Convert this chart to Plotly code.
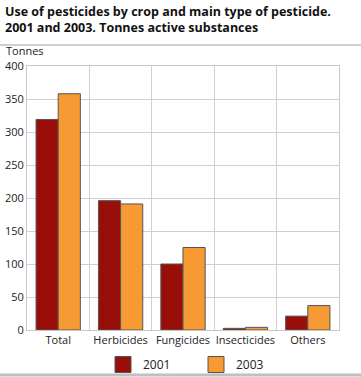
import plotly.graph_objects as go

categories = ["Total", "Herbicides", "Fungicides", "Insecticides", "Others"]
values_2001 = [319, 196, 100, 2.5, 21]
values_2003 = [358, 191, 125, 4, 37]
series_names = ["2001", "2003"]
colors = ["#9a0e0a", "#f79a33"]

fig = go.Figure()
for name, vals, col in zip(series_names, [values_2001, values_2003], colors):
    fig.add_trace(go.Bar(x=categories, y=vals, name=name, showlegend=False,
                         marker=dict(color=col, line=dict(color="#555555", width=1))))
for name, col in zip(series_names, colors):
    fig.add_trace(go.Scatter(x=[None], y=[None], name=name, mode="markers",
                             marker=dict(symbol="square", size=20, color=col, line=dict(color="#555555", width=1))))

W, H = 361, 377
L, R, T, B = 27, 22, 66, 47
PW, PH = W - L - R, H - T - B

font = "Open Sans, Noto Sans, sans-serif"
fig.update_layout(
    width=W, height=H,
    margin=dict(l=L, r=R, t=T, b=B, autoexpand=False),
    paper_bgcolor="white", plot_bgcolor="white",
    barmode="group", bargap=0.29, bargroupgap=0,
    font=dict(family=font, size=11, color="#222222"),
    showlegend=True,
    legend=dict(orientation="h", x=(103 - L) / PW, xanchor="left", y=-20 / PH, yanchor="top",
                font=dict(size=12), traceorder="normal", itemsizing="trace",
                bgcolor="rgba(0,0,0,0)", entrywidth=48, entrywidthmode="pixels"),
    xaxis=dict(tickson="boundaries", showgrid=True, gridcolor="#d0d0d0", gridwidth=1, automargin=False,
               tickangle=0, showline=True, linecolor="#c8c8c8", mirror=True, ticks="", tickfont=dict(size=11)),
    yaxis=dict(range=[0, 400], dtick=50, showgrid=True, gridcolor="#d0d0d0", gridwidth=1, automargin=False,
               showline=True, linecolor="#c8c8c8", mirror=True, ticks="", zeroline=False,
               tickfont=dict(size=11)),
)
fig.add_annotation(text="<b>Use of pesticides by crop and main type of pesticide.<br>2001 and 2003. Tonnes active substances</b>",
                   xref="paper", yref="paper", x=-(L - 3) / PW, y=1 + (T - 1) / PH, xanchor="left", yanchor="top",
                   align="left", showarrow=False, font=dict(size=12.5, family=font, color="#111111"))
fig.add_annotation(text="Tonnes", xref="paper", yref="paper", x=-(L - 4) / PW, y=1 + 6 / PH,
                   xanchor="left", yanchor="bottom", showarrow=False, font=dict(size=11, family=font))
fig.add_shape(type="line", xref="paper", yref="paper", x0=-L / PW, x1=1 + R / PW,
              y0=1 + 21 / PH, y1=1 + 21 / PH, line=dict(color="#a0a0a0", width=1))
fig.add_shape(type="line", xref="paper", yref="paper", x0=-L / PW, x1=1 + R / PW,
              y0=-(B - 2) / PH, y1=-(B - 2) / PH, line=dict(color="#c0c0c0", width=3))
fig.write_html("out.html", config={"displayModeBar": False},
               post_script="document.body.style.margin='0';")
